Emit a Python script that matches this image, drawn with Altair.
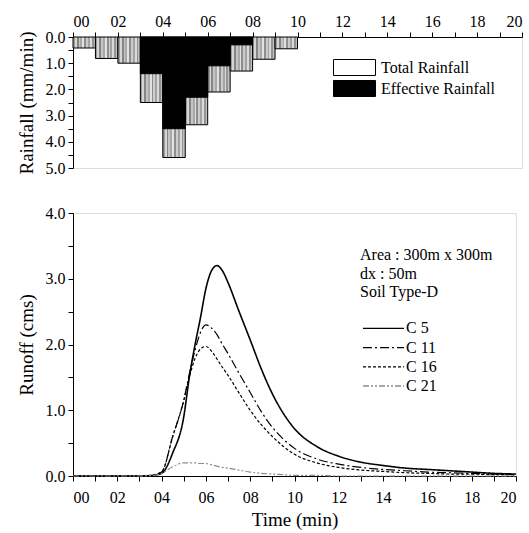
import altair as alt
import pandas as pd

FONT = "Liberation Serif"

# ---------------- Rainfall hyetograph (1-minute blocks) ----------------
rain_start = [0, 1, 2, 3, 4, 5, 6, 7, 8, 9]
rain_end = [1, 2, 3, 4, 5, 6, 7, 8, 9, 10]
total_rain = [0.42, 0.82, 1.0, 2.5, 4.6, 3.35, 2.1, 1.3, 0.85, 0.45]
effective_rain = [0.0, 0.0, 0.0, 1.4, 3.5, 2.3, 1.1, 0.3, 0.0, 0.0]
rain_types = ["Total Rainfall", "Effective Rainfall"]

# ---------------- Runoff hydrographs ----------------
time_min = [0, 3, 3.5, 4, 4.5, 5, 5.25, 5.5, 5.75, 6, 6.25, 6.5, 6.75, 7, 7.5, 8,
            8.5, 9, 9.5, 10, 11, 12, 13, 14, 15, 16, 17, 18, 19, 20]
c5 = [0, 0, 0.005, 0.04, 0.35, 0.9, 1.5, 1.98, 2.4, 2.85, 3.12, 3.2, 3.12, 2.94, 2.5, 2.07,
      1.63, 1.25, 0.95, 0.72, 0.45, 0.3, 0.21, 0.16, 0.12, 0.1, 0.08, 0.06, 0.04, 0.03]
c11 = [0, 0, 0.01, 0.06, 0.6, 1.15, 1.55, 1.9, 2.18, 2.3, 2.25, 2.15, 2.0, 1.86, 1.56, 1.27,
       0.98, 0.74, 0.56, 0.42, 0.26, 0.18, 0.13, 0.1, 0.08, 0.06, 0.05, 0.04, 0.03, 0.02]
c16 = [0, 0, 0.01, 0.06, 0.6, 1.15, 1.5, 1.78, 1.93, 1.97, 1.9, 1.78, 1.65, 1.53, 1.26, 1.0,
       0.78, 0.6, 0.45, 0.33, 0.2, 0.13, 0.09, 0.07, 0.05, 0.04, 0.03, 0.03, 0.02, 0.02]
c21 = [0, 0, 0.005, 0.04, 0.14, 0.2, 0.2, 0.2, 0.19, 0.19, 0.17, 0.15, 0.13, 0.12, 0.09, 0.06,
       0.04, 0.03, 0.02, 0.01, 0.01, 0.0, 0.0, 0.0, 0.0, 0.0, 0.0, 0.0, 0.0, 0.0]
series_names = ["C 5", "C 11", "C 16", "C 21"]
legend_title = ["Area : 300m x 300m", "dx : 50m", "Soil Type-D"]

rain_df = pd.DataFrame({"start": rain_start, "end": rain_end,
                        "total": total_rain, "effective": effective_rain})
eff_df = rain_df[rain_df["effective"] > 0].copy()
eff_df["type"] = rain_types[1]

rows = []
for name, vals in zip(series_names, [c5, c11, c16, c21]):
    for t, v in zip(time_min, vals):
        rows.append({"time": t, "runoff": v, "series": name})
runoff_df = pd.DataFrame(rows)

minute_ticks = list(range(0, 21))
label_expr_x = "datum.value % 2 == 0 ? format(datum.value, '02d') : ''"
label_expr_y = "datum.value % 1 == 0 ? format(datum.value, '.1f') : ''"

# stripe pattern for the total-rainfall bars
stripe_cols = ["#9a9a9a", "#d6d6d6", "#858585", "#c4c4c4", "#a8a8a8", "#e2e2e2",
               "#8e8e8e", "#cccccc", "#a2a2a2", "#dadada", "#939393", "#c0c0c0"]
stops = []
n = len(stripe_cols)
for i, col in enumerate(stripe_cols):
    stops.append(alt.GradientStop(color=col, offset=i / n))
    stops.append(alt.GradientStop(color=col, offset=(i + 1) / n))
stripes = alt.LinearGradient(gradient="linear", stops=stops, x1=0, x2=1, y1=0, y2=0)

axis_common = dict(labelFont=FONT, titleFont=FONT, labelFontSize=16, titleFontSize=19,
                   titleFontWeight="normal", labelColor="black", titleColor="black",
                   domainColor="black", tickColor="black", grid=False, tickSize=5,
                   domainWidth=1, tickWidth=1, labelOverlap=False)

top_x_axis = alt.Axis(orient="top", title=None, values=minute_ticks,
                      labelExpr=label_expr_x, labelPadding=3, **axis_common)
top_y_axis = alt.Axis(title="Rainfall (mm/min)", values=[i * 0.5 for i in range(11)],
                      labelExpr=label_expr_y, titlePadding=9, labelPadding=3,
                      **axis_common)
top_x_scale = alt.Scale(domain=[0, 20], nice=False, zero=False)
top_y_scale = alt.Scale(domain=[0, 5], reverse=True, nice=False)

total_bars = alt.Chart(rain_df).mark_bar(fill=stripes, stroke="black", strokeWidth=1).encode(
    x=alt.X("start:Q", scale=top_x_scale, axis=top_x_axis),
    x2="end:Q",
    y=alt.Y("total:Q", scale=top_y_scale, axis=top_y_axis),
    y2=alt.datum(0))

eff_bars = alt.Chart(eff_df).mark_bar(stroke="black", strokeWidth=1).encode(
    x=alt.X("start:Q", scale=top_x_scale, axis=top_x_axis),
    x2="end:Q",
    y=alt.Y("effective:Q", scale=top_y_scale, axis=top_y_axis),
    y2=alt.datum(0),
    fill=alt.Fill("type:N",
                  scale=alt.Scale(domain=rain_types, range=["white", "black"]),
                  legend=alt.Legend(title=None, orient="none", legendX=260, legendY=22,
                                    symbolType="M-1,-1H4.25V1H-1Z", symbolSize=256,
                                    symbolStrokeColor="black", symbolStrokeWidth=1,
                                    labelFont=FONT, labelFontSize=16, labelColor="black",
                                    labelOffset=31, rowPadding=0, padding=0)))

top = alt.layer(total_bars, eff_bars).properties(width=449, height=131)

leg = dict(title=legend_title, orient="none", legendX=287, legendY=34,
           titleFont=FONT, titleFontSize=16, titleFontWeight="normal", titleColor="black",
           titleLineHeight=18.7, titlePadding=20,
           symbolType="M-1,0H7.2", symbolSize=100, symbolStrokeWidth=1.3,
           labelFont=FONT, labelFontSize=16, labelColor="black", labelOffset=30,
           rowPadding=3.2, padding=0)

bottom = alt.Chart(runoff_df).mark_line(interpolate="monotone").encode(
    x=alt.X("time:Q", scale=alt.Scale(domain=[0, 20], nice=False),
            axis=alt.Axis(title="Time (min)", values=minute_ticks, labelExpr=label_expr_x,
                          labelPadding=8, titlePadding=5, **axis_common)),
    y=alt.Y("runoff:Q", scale=alt.Scale(domain=[0, 4], nice=False),
            axis=alt.Axis(title="Runoff (cms)", values=[i * 0.5 for i in range(9)],
                          labelExpr=label_expr_y, titlePadding=9, labelPadding=3,
                          **axis_common)),
    stroke=alt.Stroke("series:N", sort=series_names,
                      scale=alt.Scale(domain=series_names,
                                      range=["black", "black", "black", "#8c8c8c"]),
                      legend=alt.Legend(**leg)),
    strokeDash=alt.StrokeDash("series:N", sort=series_names,
                              scale=alt.Scale(domain=series_names,
                                              range=[[1, 0], [9, 3, 2, 3], [3, 2],
                                                     [6, 2, 2, 2, 2, 2]]),
                              legend=alt.Legend(**leg)),
    strokeWidth=alt.condition(alt.datum.series == "C 5", alt.value(1.6), alt.value(1.2)),
    detail="series:N",
).properties(width=443, height=263)

chart = alt.vconcat(top, bottom, spacing=27).resolve_scale(
    fill="independent", stroke="independent", strokeDash="independent"
).resolve_legend(
    fill="independent", stroke="independent", strokeDash="independent"
).properties(
    padding={"left": 16, "top": 12, "right": 6, "bottom": 2}
).configure_view(stroke=None).configure(background="white")

chart.save("out.html", embed_options={"renderer": "svg", "actions": False})
